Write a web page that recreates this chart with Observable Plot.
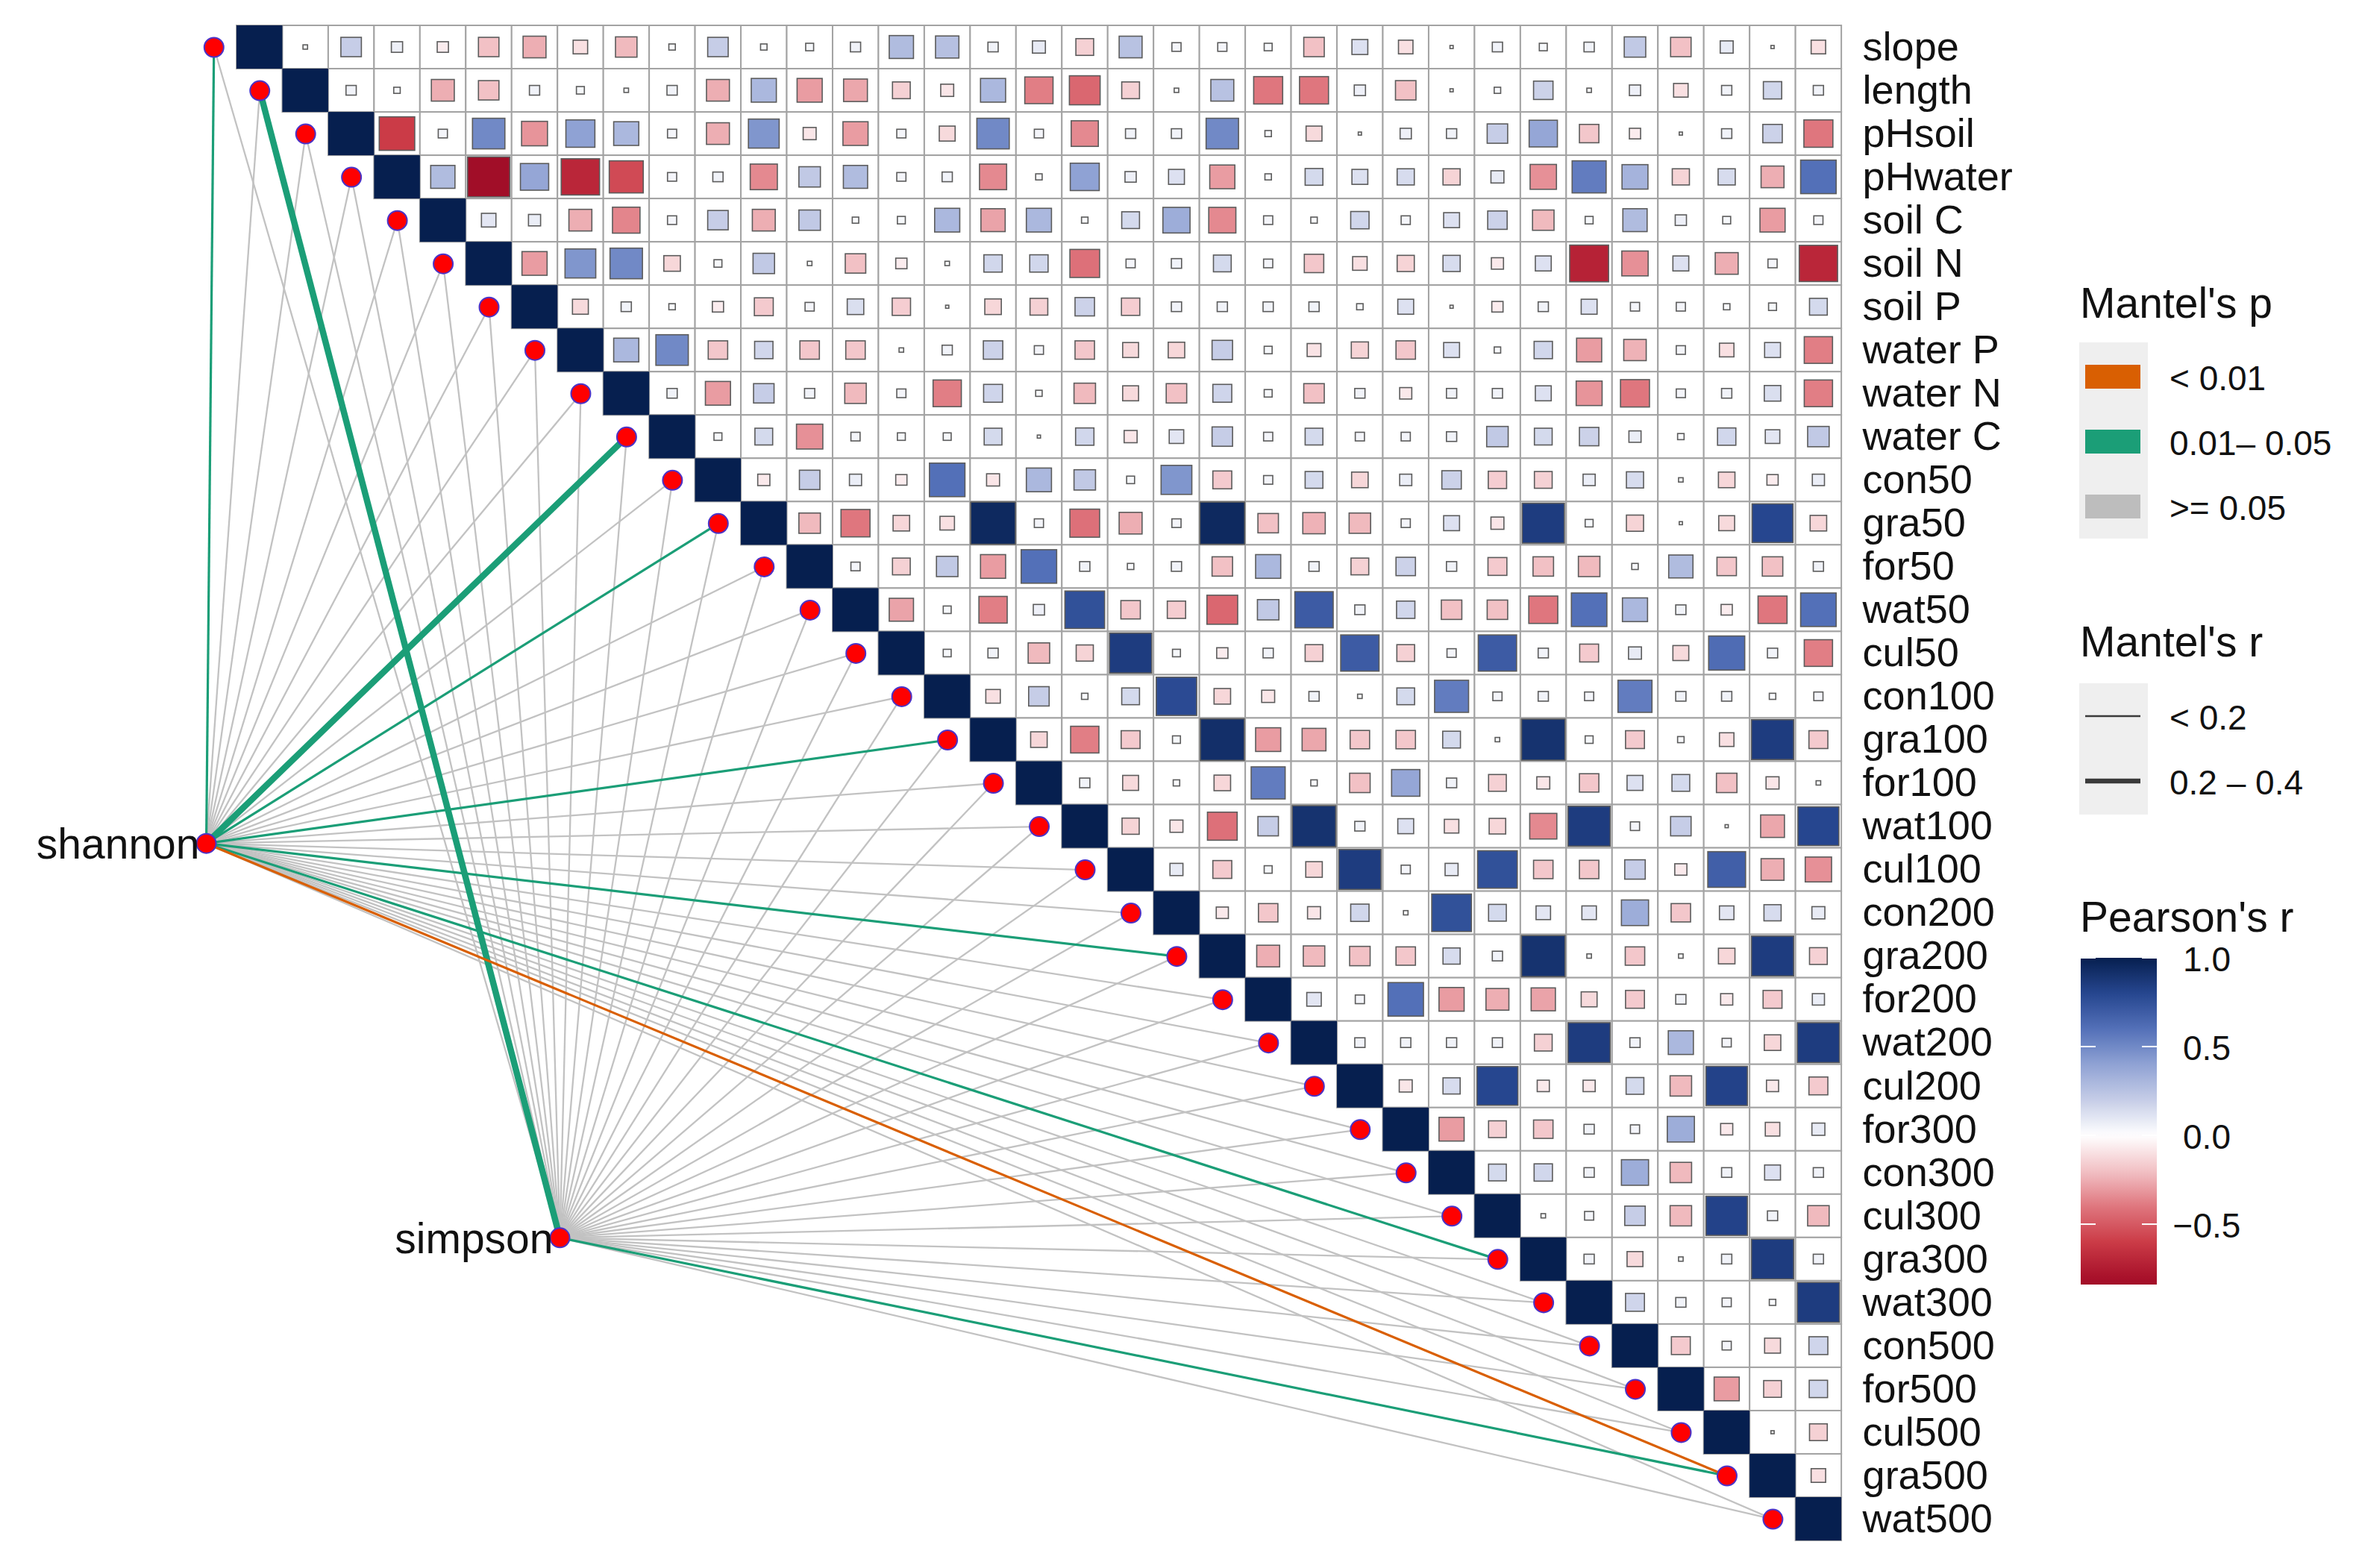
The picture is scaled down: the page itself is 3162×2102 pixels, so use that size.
<!DOCTYPE html>
<html><head><meta charset="utf-8">
<script src="https://cdn.jsdelivr.net/npm/d3@7"></script>
<script src="https://cdn.jsdelivr.net/npm/@observablehq/plot@0.6"></script>
<style>
html,body{margin:0;padding:0;background:#fff;}
#wrap{position:relative;width:3162px;height:2102px;overflow:hidden;background:#fff;}
#wrap svg{position:absolute;left:0;top:0;}
</style></head><body><div id="wrap"></div>
<script>
// ---------------- data ----------------
const vars = ["slope","length","pHsoil","pHwater","soil C","soil N","soil P","water P","water N","water C",
  "con50","gra50","for50","wat50","cul50","con100","gra100","for100","wat100","cul100",
  "con200","gra200","for200","wat200","cul200","for300","con300","cul300","gra300","wat300",
  "con500","for500","cul500","gra500","wat500"];

// Pearson's r, upper triangle: row i holds columns i+1 .. 34
const pearson = [
 [0.01,0.2,0.06,-0.06,-0.2,-0.25,-0.1,-0.22,0.02,0.2,0.02,0.03,0.05,0.28,0.26,0.05,0.08,-0.15,0.25,0.04,0.04,0.03,-0.2,0.12,-0.1,0.005,0.05,0.03,0.05,0.22,-0.2,0.08,0.005,-0.1],
 [0.05,0.02,-0.25,-0.2,0.05,0.03,0.01,0.05,-0.25,0.3,-0.3,-0.27,-0.15,-0.08,0.3,-0.38,-0.45,-0.15,0.01,0.25,-0.4,-0.4,0.06,-0.2,0.005,0.02,0.18,0.01,0.06,-0.1,0.05,0.16,0.05],
 [-0.6,0.04,0.5,-0.32,0.4,0.3,0.04,-0.25,0.45,-0.08,-0.3,0.04,-0.12,0.5,0.04,-0.35,0.05,0.05,0.5,0.02,-0.12,0.005,0.06,0.05,0.2,0.38,-0.18,-0.06,0.005,0.05,0.18,-0.4],
 [0.28,-0.85,0.38,-0.7,-0.55,0.04,0.05,-0.35,0.22,0.28,0.04,0.05,-0.35,0.02,0.4,0.06,0.12,-0.3,0.02,0.15,0.12,0.14,-0.14,0.08,-0.33,0.55,0.32,-0.14,0.14,-0.25,0.6],
 [0.1,0.07,-0.25,-0.36,0.04,0.2,-0.25,0.22,0.02,0.03,0.3,-0.28,0.3,0.02,0.15,0.35,-0.35,0.04,0.02,0.16,0.04,0.12,0.18,-0.22,0.03,0.28,0.06,0.03,-0.3,0.04],
 [-0.3,0.45,0.5,-0.13,0.03,0.22,0.01,-0.2,-0.06,0.01,0.16,0.16,-0.42,0.04,0.05,0.15,0.04,-0.18,-0.1,-0.14,0.14,-0.07,0.12,-0.72,-0.33,0.12,-0.25,0.04,-0.7],
 [-0.12,0.05,0.02,-0.06,-0.17,0.04,0.13,-0.16,0.005,-0.13,-0.15,0.18,-0.16,0.05,0.05,0.05,0.05,0.02,0.12,0.005,-0.06,0.05,0.12,0.04,0.04,0.02,0.03,0.15],
 [0.3,0.5,-0.18,0.16,-0.18,-0.18,0.01,0.05,0.18,0.04,-0.18,-0.12,-0.13,0.2,0.03,-0.09,-0.14,-0.18,0.12,0.02,0.16,-0.3,-0.24,0.04,-0.1,0.12,-0.38],
 [0.05,-0.3,0.2,0.05,-0.22,0.04,-0.38,0.17,0.02,-0.22,-0.12,-0.2,0.17,0.03,-0.2,0.05,-0.07,0.05,0.05,0.12,-0.32,-0.4,0.04,0.05,0.13,-0.38],
 [0.03,0.15,-0.33,0.04,0.03,0.03,0.15,0.005,0.16,-0.08,0.1,0.2,0.04,0.15,0.04,0.04,0.05,0.22,0.15,0.18,0.07,0.02,0.16,0.1,0.22],
 [-0.07,0.2,0.07,-0.06,0.6,-0.08,0.3,0.22,0.03,0.45,-0.17,0.04,0.15,-0.13,0.07,0.18,-0.16,-0.15,0.07,0.14,0.01,-0.13,-0.06,0.07],
 [-0.22,-0.4,-0.13,-0.1,0.95,0.04,-0.42,-0.25,0.04,0.95,-0.2,-0.24,-0.22,0.04,0.12,-0.08,0.85,0.03,-0.14,0.005,-0.12,0.8,-0.13],
 [0.04,-0.15,0.22,-0.3,0.6,0.05,0.02,0.05,-0.2,0.3,0.05,-0.15,0.18,0.05,-0.17,-0.2,-0.22,0.02,0.28,-0.18,-0.2,0.05],
 [-0.28,0.03,-0.38,0.06,0.75,-0.18,-0.16,-0.45,0.22,0.7,0.05,0.16,-0.2,-0.2,-0.4,0.6,0.3,0.05,-0.06,-0.4,0.6],
 [0.03,0.05,-0.22,-0.14,0.85,0.03,-0.06,0.05,-0.15,0.7,-0.15,0.04,0.7,0.05,-0.17,0.08,-0.12,0.62,0.05,-0.38],
 [-0.1,0.2,0.02,0.15,0.78,-0.13,-0.08,0.05,0.01,0.15,0.55,0.04,0.05,0.04,0.55,0.05,0.05,0.02,0.04],
 [-0.13,-0.38,-0.17,0.03,0.92,-0.3,-0.27,-0.18,-0.18,0.15,0.01,0.9,0.03,-0.17,0.02,-0.1,0.85,-0.17],
 [0.05,-0.12,0.02,-0.13,0.55,0.02,-0.2,0.38,0.05,-0.15,-0.08,-0.18,0.12,0.15,-0.2,-0.08,0.01],
 [-0.14,-0.08,-0.42,0.2,0.9,0.05,0.12,-0.1,-0.13,-0.35,0.85,0.04,0.2,0.005,-0.27,0.8],
 [0.08,-0.17,0.03,-0.13,0.85,0.04,0.08,0.75,-0.18,-0.18,0.2,-0.07,0.68,-0.25,-0.33],
 [-0.07,-0.18,-0.08,0.16,0.01,0.75,0.15,0.1,0.1,0.35,-0.18,0.1,0.14,0.08],
 [-0.25,-0.22,-0.2,-0.18,0.14,0.05,0.9,0.01,-0.18,0.01,-0.13,0.85,-0.15],
 [0.1,0.04,0.6,-0.3,-0.25,-0.28,-0.12,-0.17,0.05,-0.07,-0.17,0.07],
 [0.05,0.05,0.05,0.05,-0.15,0.85,0.05,0.3,0.04,-0.13,0.85],
 [-0.08,0.14,0.8,-0.07,-0.07,0.15,-0.22,0.82,-0.07,-0.17],
 [-0.3,-0.15,-0.18,0.05,0.04,0.35,-0.07,-0.1,0.08],
 [0.15,0.16,0.05,0.35,-0.22,0.05,0.12,0.05],
 [0.01,0.04,0.2,-0.22,0.82,0.05,-0.22],
 [0.05,-0.12,0.01,0.05,0.85,0.05],
 [0.17,0.05,0.04,0.02,0.85],
 [-0.17,0.04,-0.12,0.17],
 [-0.3,-0.15,0.16],
 [0.005,-0.15],
 [-0.1],
 []
];

// Mantel test results (shannon / simpson against each variable)
const specs = ["shannon","simpson"];
const mantelP01 = {shannon:["gra500"], simpson:[]};                                   // p < 0.01
const mantelP05 = {shannon:["slope","water C","gra50","gra100","gra200","gra300"], simpson:["length","gra500"]}; // 0.01-0.05
const mantelR24 = {shannon:["water C"], simpson:["length"]};                          // 0.2 <= r < 0.4

// colour scale for Pearson's r
const fillStops  = [-1, -0.8, -0.6, -0.4, -0.2, 0, 0.2, 0.4, 0.6, 0.8, 1];
const fillColors = ["#8c0320","#a8112a","#cb3b47","#df767e","#f2c1c5","#ffffff","#c6cde7","#8fa2d4","#5370b8","#26468f","#061f4f"];
const barMin = -0.84;

// ---------------- layout ----------------
const X0 = 317, CW = 61.46, Y0 = 34, CH = 58.03;
const specPos = {shannon: [-0.667, 18.89], simpson: [7.045, 28.0]};
const pCol = {"p01":"#D95F02", "p05":"#1B9E77", "ns":"#C2C2C2"};

const n = vars.length;
const cells = [];
pearson.forEach((row, i) => row.forEach((r, k) => cells.push({row: i, col: i + 1 + k, r})));
const diag = vars.map((v, i) => ({row: i, col: i, r: 1}));
const grid = [];
for (let i = 0; i < n; i++) for (let j = i; j < n; j++) grid.push({row: i, col: j});
const envNodes = vars.map((v, i) => ({name: v, x: i - 0.5, y: i + 0.5}));
const specNodes = specs.map(s => ({name: s, x: specPos[s][0], y: specPos[s][1]}));
const links = [];
specs.forEach(s => vars.forEach((v, i) => {
  const p = mantelP01[s].includes(v) ? "p01" : mantelP05[s].includes(v) ? "p05" : "ns";
  const w = mantelR24[s].includes(v) ? "thick" : "thin";
  links.push({x1: specPos[s][0], y1: specPos[s][1], x2: i - 0.5, y2: i + 0.5, p, w});
}));
const half = d => 0.5 * Math.sqrt(Math.abs(d.r));
const L = (p, w) => links.filter(d => d.p === p && d.w === w);
const linkOpts = {x1: "x1", y1: "y1", x2: "x2", y2: "y2"};

const chart = Plot.plot({
  width: 3162, height: 2102, margin: 0,
  x: {type: "linear", domain: [0, 35], range: [X0, X0 + 35 * CW], axis: null},
  y: {type: "linear", domain: [0, 35], range: [Y0, Y0 + 35 * CH], axis: null},
  color: {type: "linear", domain: fillStops, range: fillColors},
  style: {fontFamily: "'Liberation Sans', Arial, sans-serif", background: "white"},
  marks: [
    Plot.rect(grid, {x1: "col", x2: d => d.col + 1, y1: "row", y2: d => d.row + 1, fill: "white", stroke: "#a3a3a3", strokeWidth: 2}),
    Plot.link(L("ns", "thin"), {...linkOpts, stroke: pCol.ns, strokeWidth: 2.3}),
    Plot.link(L("ns", "thick"), {...linkOpts, stroke: pCol.ns, strokeWidth: 8}),
    Plot.link(L("p05", "thin"), {...linkOpts, stroke: pCol.p05, strokeWidth: 3.2}),
    Plot.link(L("p05", "thick"), {...linkOpts, stroke: pCol.p05, strokeWidth: 8.5}),
    Plot.link(L("p01", "thin"), {...linkOpts, stroke: pCol.p01, strokeWidth: 3.2}),
    Plot.link(L("p01", "thick"), {...linkOpts, stroke: pCol.p01, strokeWidth: 8.5}),
    Plot.rect(diag, {x1: "col", x2: d => d.col + 1, y1: "row", y2: d => d.row + 1, fill: "r"}),
    Plot.rect(cells, {x1: d => d.col + 0.5 - half(d), x2: d => d.col + 0.5 + half(d),
                      y1: d => d.row + 0.5 - half(d), y2: d => d.row + 0.5 + half(d),
                      fill: "r", stroke: "#5c5c5c", strokeWidth: 1.6}),
    Plot.dot(envNodes, {x: "x", y: "y", r: 13, fill: "#ff0000", stroke: "#4b33c8", strokeWidth: 2}),
    Plot.dot(specNodes, {x: "x", y: "y", r: 13, fill: "#ff0000", stroke: "#4b33c8", strokeWidth: 2}),
    Plot.text(vars, {x: 35, y: (d, i) => i + 0.5, text: d => d, textAnchor: "start", dx: 28, fontSize: 54, fill: "#111"}),
    Plot.text(specNodes, {x: "x", y: "y", text: "name", textAnchor: "end", dx: -9, dy: 2, fontSize: 57, fill: "#111"})
  ]
});
document.getElementById("wrap").appendChild(chart);

// ---------------- legends ----------------
const lg = d3.select("#wrap").append("svg").attr("width", 3162).attr("height", 2102)
  .style("font-family", "'Liberation Sans', Arial, sans-serif").style("pointer-events", "none");
const LX = 2787, LBLX = 2908;
const title = (t, y) => lg.append("text").attr("x", LX + 1).attr("y", y).attr("font-size", 57).attr("fill", "#111").text(t);
const label = (t, x, y, anchor) => lg.append("text").attr("x", x).attr("y", y).attr("font-size", 46)
  .attr("fill", "#111").attr("dominant-baseline", "central").attr("text-anchor", anchor || "start").text(t);

// Mantel's p
title("Mantel's p", 426);
lg.append("rect").attr("x", LX).attr("y", 459).attr("width", 92).attr("height", 263).attr("fill", "#efefef");
[["< 0.01", pCol.p01, 505], ["0.01– 0.05", pCol.p05, 592], [">= 0.05", "#bdbdbd", 679]].forEach(([t, c, y]) => {
  lg.append("rect").attr("x", LX + 8).attr("y", y - 16).attr("width", 74).attr("height", 32).attr("fill", c);
  label(t, LBLX, y + 2);
});

// Mantel's r
title("Mantel's r", 880);
lg.append("rect").attr("x", LX).attr("y", 916).attr("width", 92).attr("height", 176).attr("fill", "#efefef");
[["< 0.2", 2.6, 960], ["0.2 – 0.4", 6.5, 1047]].forEach(([t, w, y]) => {
  lg.append("line").attr("x1", LX + 8).attr("x2", LX + 82).attr("y1", y).attr("y2", y)
    .attr("stroke", "#3a3a3a").attr("stroke-width", w);
  label(t, LBLX, y + 2);
});

// Pearson's r colour bar
title("Pearson's r", 1249);
const CBY = 1284, CBH = 438, CBW = 102;
const cScale = d3.scaleLinear().domain(fillStops).range(fillColors);
const grad = lg.append("defs").append("linearGradient").attr("id", "cbar")
  .attr("x1", 0).attr("x2", 0).attr("y1", 0).attr("y2", 1);
d3.range(0, 61).forEach(k => {
  const f = k / 60, v = 1 - f * (1 - barMin);
  grad.append("stop").attr("offset", f).attr("stop-color", cScale(v));
});
lg.append("rect").attr("x", LX + 2).attr("y", CBY).attr("width", CBW).attr("height", CBH).attr("fill", "url(#cbar)");
const vy = v => CBY + (1 - v) / (1 - barMin) * CBH;
[1, 0.5, 0, -0.5].forEach(v => {
  const y = vy(v);
  lg.append("line").attr("x1", LX + 2).attr("x2", LX + 22).attr("y1", y).attr("y2", y).attr("stroke", "white").attr("stroke-width", 2);
  lg.append("line").attr("x1", LX + CBW - 18).attr("x2", LX + CBW + 2).attr("y1", y).attr("y2", y).attr("stroke", "white").attr("stroke-width", 2);
  label(v === 0 ? "0.0" : v === 1 ? "1.0" : (v < 0 ? "\u22120.5" : "0.5"), 2958, y + 2, "middle");
});
</script>
</body></html>
